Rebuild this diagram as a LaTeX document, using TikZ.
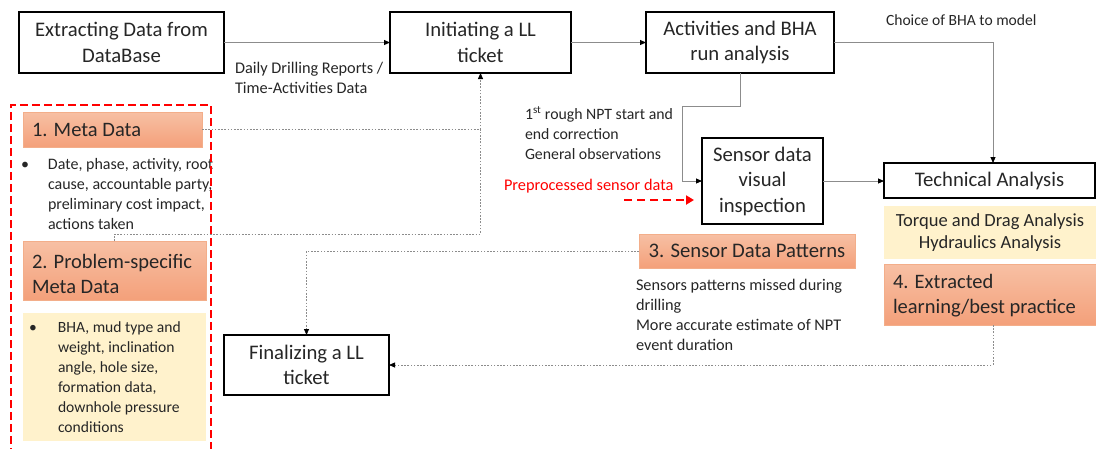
\documentclass[tikz,border=0pt]{standalone}
\usepackage{fontspec}
\setmainfont{Carlito}
\usetikzlibrary{arrows.meta,calc}
\definecolor{ink}{HTML}{262626}
\definecolor{salmonTop}{HTML}{F7C0A4}
\definecolor{salmonBot}{HTML}{F4A07A}
\definecolor{salmonEdge}{HTML}{F3AE8A}
\definecolor{cream}{HTML}{FFF2CC}
\definecolor{wire}{HTML}{8C8C8C}
\definecolor{alert}{HTML}{FF0000}
\begin{document}
\begin{tikzpicture}[x=1pt,y=-1pt,
  every node/.style={inner sep=0pt,outer sep=0pt,text=ink},
  stepbox/.style={draw=black,line width=1.2pt,fill=white,align=center,
    font=\fontsize{20.7}{25.5}\selectfont},
  tagbox/.style={top color=salmonTop,bottom color=salmonBot,draw=salmonEdge,line width=0.6pt},
  notebox/.style={fill=cream},
  tagtext/.style={font=\fontsize{20.5}{25}\selectfont,align=left,anchor=west},
  note/.style={font=\fontsize{16}{20}\selectfont,align=left,anchor=west},
  flow/.style={draw=wire,line width=0.9pt,-{Triangle[length=6pt,width=5pt,color=black]}},
  dotline/.style={draw=wire,line width=0.8pt,dash pattern=on 1.6pt off 1.6pt},
  dotflow/.style={dotline,-{Triangle[length=6pt,width=5pt,color=black]}},
  redflow/.style={draw=alert,line width=2.4pt,dash pattern=on 8pt off 5pt,
    -{Triangle[length=8pt,width=9pt,color=alert]}},
  groupframe/.style={draw=alert,line width=2.4pt,dash pattern=on 8pt off 4pt},
]
\useasboundingbox (0,0) rectangle (1096,448);

% main process steps
\node[stepbox,minimum width=205pt,minimum height=61pt] (extract) at (121.5,42.5) {Extracting Data from\\DataBase};
\node[stepbox,minimum width=181pt,minimum height=61pt] (init) at (480.5,42.5) {Initiating a LL\\ticket};
\node[stepbox,minimum width=188pt,minimum height=61pt] (activ) at (740,42.5) {Activities and BHA\\run analysis};
\node[stepbox,minimum width=121pt,minimum height=86pt] (sensor) at (762.5,181) {Sensor data\\visual\\inspection};
\node[stepbox,minimum width=211pt,minimum height=35pt] (tech) at (989.5,180.5) {Technical Analysis};
\node[stepbox,minimum width=165pt,minimum height=60pt] (final) at (306.5,365) {Finalizing a LL\\ticket};

% information collected along the way
\node[tagbox,minimum width=179pt,minimum height=35pt] (meta1) at (112.5,129.5) {};
\node[tagtext] (meta1t) at (32,129.5) {1. Meta Data};
\node[note] (meta1n) at (48,193.5) {\llap{\textbullet\hspace{19pt}}Date, phase, activity, root\\cause, accountable party,\\preliminary cost impact,\\actions taken};

\node[tagbox,minimum width=183pt,minimum height=59pt] (meta2) at (114.5,270.5) {};
\node[tagtext] (meta2t) at (32,273.5) {2. Problem-specific\\Meta Data};
\node[notebox,minimum width=183pt,minimum height=128pt] (meta2box) at (114.5,377) {};
\node[note,font=\fontsize{15.6}{20}\selectfont] (meta2n) at (58,377.5) {\llap{\textbullet\hspace{21pt}}BHA, mud type and\\weight, inclination\\angle, hole size,\\formation data,\\downhole pressure\\conditions};

\node[tagbox,minimum width=216pt,minimum height=34pt,font=\fontsize{20.7}{25}\selectfont] (sdp) at (747,251) {3. Sensor Data Patterns};
\node[note,font=\fontsize{16.3}{20}\selectfont] (sdpn) at (636,315) {Sensors patterns missed during\\drilling\\More accurate estimate of NPT\\event duration};

\node[notebox,minimum width=212pt,minimum height=53pt,align=center,font=\fontsize{18.5}{22}\selectfont] (models) at (990,232.5) {Torque and Drag Analysis\\Hydraulics Analysis};
\node[tagbox,minimum width=212pt,minimum height=61pt] (extr4) at (990,294.5) {};
\node[tagtext] (extr4t) at (893,295.5) {4. Extracted\\learning/best practice};

% the group of metadata collected for a ticket
\draw[groupframe] (11,456) -- (11,105) -- (211,105) -- (211,456);

% connector labels
\node[note,font=\fontsize{16.3}{20}\selectfont] (lblreports) at (235,78) {Daily Drilling Reports /\\Time-Activities Data};
\node[note,font=\fontsize{15.6}{20}\selectfont] (lblbha) at (886,20) {Choice of BHA to model};
\node[note,font=\fontsize{15.8}{20}\selectfont] (lblnpt) at (525,133) {1\textsuperscript{st} rough NPT start and\\end correction\\General observations};
\node[note,text=alert,font=\fontsize{16.3}{20}\selectfont] (lblpre) at (504,186) {Preprocessed sensor data};

% connectors
\draw[flow] (extract) -- (init);
\draw[flow] (init) -- (activ);
\draw[flow] (activ.east) -| ([xshift=3.5pt]tech.north);
\draw[flow] (activ.south) |- (682,106) |- (sensor.west);
\draw[flow] (sensor.east) -- (sensor.east -| tech.west);
\coordinate (preA) at (624,200);
\coordinate (preB) at (694,200);
\draw[redflow] (preA) -- (preB);

\draw[dotflow] (meta1.east) -| (init.south);
\draw[dotline] (meta2.north) -- ++(0,-7) -| (init.south |- meta1.east);
\draw[dotflow] (sdp.west) -| (final.north);
\draw[dotflow] ([xshift=3pt]extr4.south) |- (final.east);
\end{tikzpicture}
\end{document}
